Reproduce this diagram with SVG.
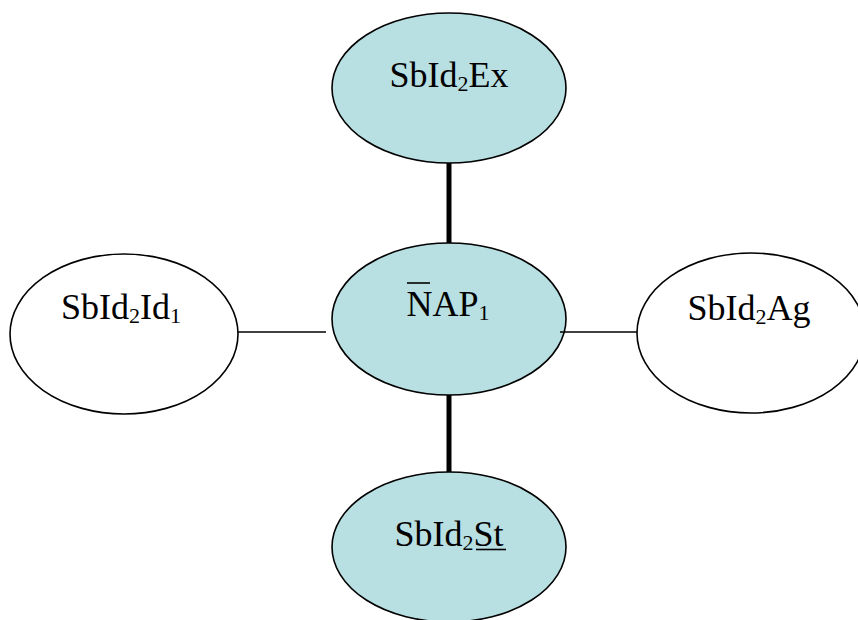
<svg xmlns="http://www.w3.org/2000/svg" width="858" height="620" viewBox="0 0 858 620">
<style>
.node{stroke:#000;stroke-width:1.6}
.blue{fill:#b8dfe2}
.white{fill:#fff}
.lbl{font-family:"Liberation Serif","Times New Roman",serif;font-size:36px;fill:#000;text-anchor:middle}
.sub{font-size:22px}
.thin{stroke:#000;stroke-width:1.5;fill:none}
.thick{stroke:#000;stroke-width:5;fill:none}
.deco{stroke:#000;stroke-width:1.6}
</style>
<rect width="858" height="620" fill="#fff"/>
<g id="node-ex">
<ellipse class="node blue" cx="449" cy="88" rx="117" ry="75"/>
<text class="lbl" x="449" y="87">SbId<tspan class="sub" dy="4">2</tspan><tspan dy="-4">Ex</tspan></text>
</g>
<g id="node-nap">
<ellipse class="node blue" cx="449" cy="319" rx="117" ry="76"/>
<text class="lbl" x="448" y="316">NAP<tspan class="sub" dy="4">1</tspan></text>
<line class="deco" x1="407" y1="283" x2="430" y2="283"/>
</g>
<g id="node-id">
<ellipse class="node white" cx="124" cy="334" rx="114" ry="80"/>
<text class="lbl" x="121" y="319">SbId<tspan class="sub" dy="4">2</tspan><tspan dy="-4">Id</tspan><tspan class="sub" dy="4">1</tspan></text>
</g>
<g id="node-ag">
<ellipse class="node white" cx="751" cy="333" rx="114" ry="80"/>
<text class="lbl" x="749" y="320">SbId<tspan class="sub" dy="4">2</tspan><tspan dy="-4">Ag</tspan></text>
</g>
<g id="node-st">
<ellipse class="node blue" cx="449" cy="547" rx="117" ry="75"/>
<text class="lbl" x="449" y="546">SbId<tspan class="sub" dy="4">2</tspan><tspan dy="-4">St</tspan></text>
<line class="deco" x1="476" y1="549.5" x2="506" y2="549.5"/>
</g>
<g id="connectors">
<line class="thick" x1="449" y1="163" x2="449" y2="243"/>
<line class="thick" x1="449" y1="395" x2="449" y2="472"/>
<line class="thin" x1="238" y1="332" x2="326" y2="332"/>
<line class="thin" x1="560" y1="332" x2="637" y2="332"/>
</g>
</svg>
